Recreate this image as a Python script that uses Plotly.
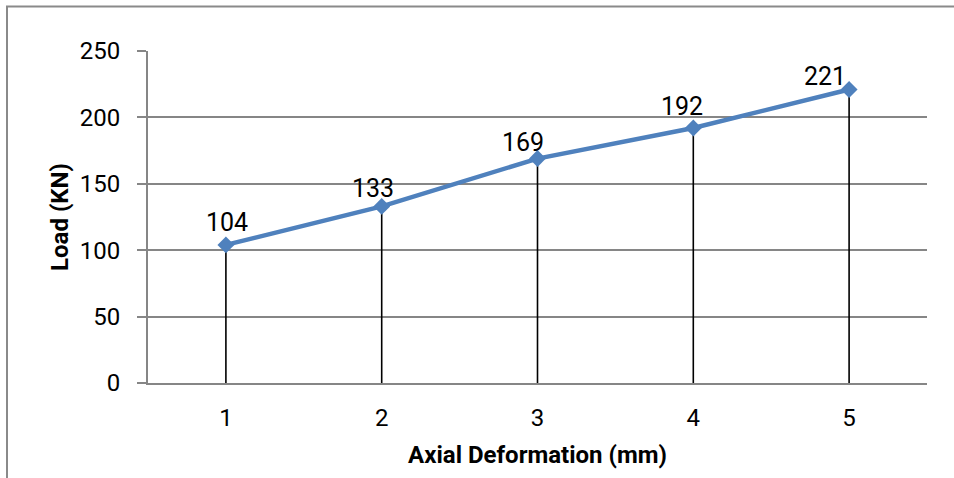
import plotly.graph_objects as go

deformation = [1, 2, 3, 4, 5]
load = [104, 133, 169, 192, 221]
y_ticks = [0, 50, 100, 150, 200, 250]

# label placement offsets (px) mimicking the original's label layout
label_dx = [1, -9, -15, -11, -24]
label_gap = [12, 7, 6, 11, 3]

FONT = "Roboto, 'Liberation Sans', sans-serif"

W, H = 954, 478
ML, MR, MT, MB = 148, 27, 51, 95

# drop lines from each point to zero
drop_x, drop_y = [], []
for xv, yv in zip(deformation, load):
    drop_x += [xv, xv, None]
    drop_y += [0, yv, None]

fig = go.Figure()
fig.add_trace(go.Scatter(
    x=drop_x, y=drop_y, mode="lines",
    line=dict(color="black", width=1.6),
    hoverinfo="skip", showlegend=False,
))
fig.add_trace(go.Scatter(
    x=deformation, y=load, mode="lines+markers",
    line=dict(color="#4F81BD", width=4.5),
    marker=dict(symbol="diamond", size=13, color="#4F81BD"),
    showlegend=False,
))
for xv, yv, dx, gap in zip(deformation, load, label_dx, label_gap):
    fig.add_annotation(x=xv, y=yv, text=str(yv), showarrow=False,
                       xanchor="center", yanchor="bottom",
                       xshift=dx, yshift=gap - 6,
                       font=dict(family=FONT, size=25, color="black"))

pw = W - ML - MR
ph = H - MT - MB
x0 = (7 - ML) / pw
y1 = (H - MB - 6.5) / ph
fig.add_shape(type="path", xref="paper", yref="paper",
              path=f"M {x0},-1 L {x0},{y1} L 1.2,{y1}",
              line=dict(color="#8a8a8a", width=2))

fig.update_layout(
    width=W, height=H,
    margin=dict(l=ML, r=MR, t=MT, b=MB),
    paper_bgcolor="white", plot_bgcolor="white",
    font=dict(family=FONT, color="black"),
    xaxis=dict(
        range=[0.5, 5.5], tickvals=deformation, ticktext=[str(v) for v in deformation],
        showgrid=False, zeroline=False, automargin=False,
        showline=True, linecolor="#868686", linewidth=2,
        ticks="", ticklabelstandoff=12,
        tickfont=dict(family=FONT, size=24, color="black"),
        title=dict(text="<b>Axial Deformation (mm)</b>", standoff=15,
                   font=dict(family=FONT, size=24, color="black")),
    ),
    yaxis=dict(
        range=[0, 250], tickvals=y_ticks, automargin=False,
        showgrid=True, gridcolor="#868686", gridwidth=1.5,
        zeroline=False,
        showline=True, linecolor="#868686", linewidth=2,
        ticks="outside", ticklen=9, tickcolor="#868686", tickwidth=1.5,
        ticklabelstandoff=12,
        tickfont=dict(family=FONT, size=24, color="black"),
        title=dict(text="<b>Load (KN)</b>", standoff=4,
                   font=dict(family=FONT, size=24, color="black")),
    ),
)

fig.write_html("out.html", config={"displayModeBar": False},
               post_script="document.body.style.margin='0';")
